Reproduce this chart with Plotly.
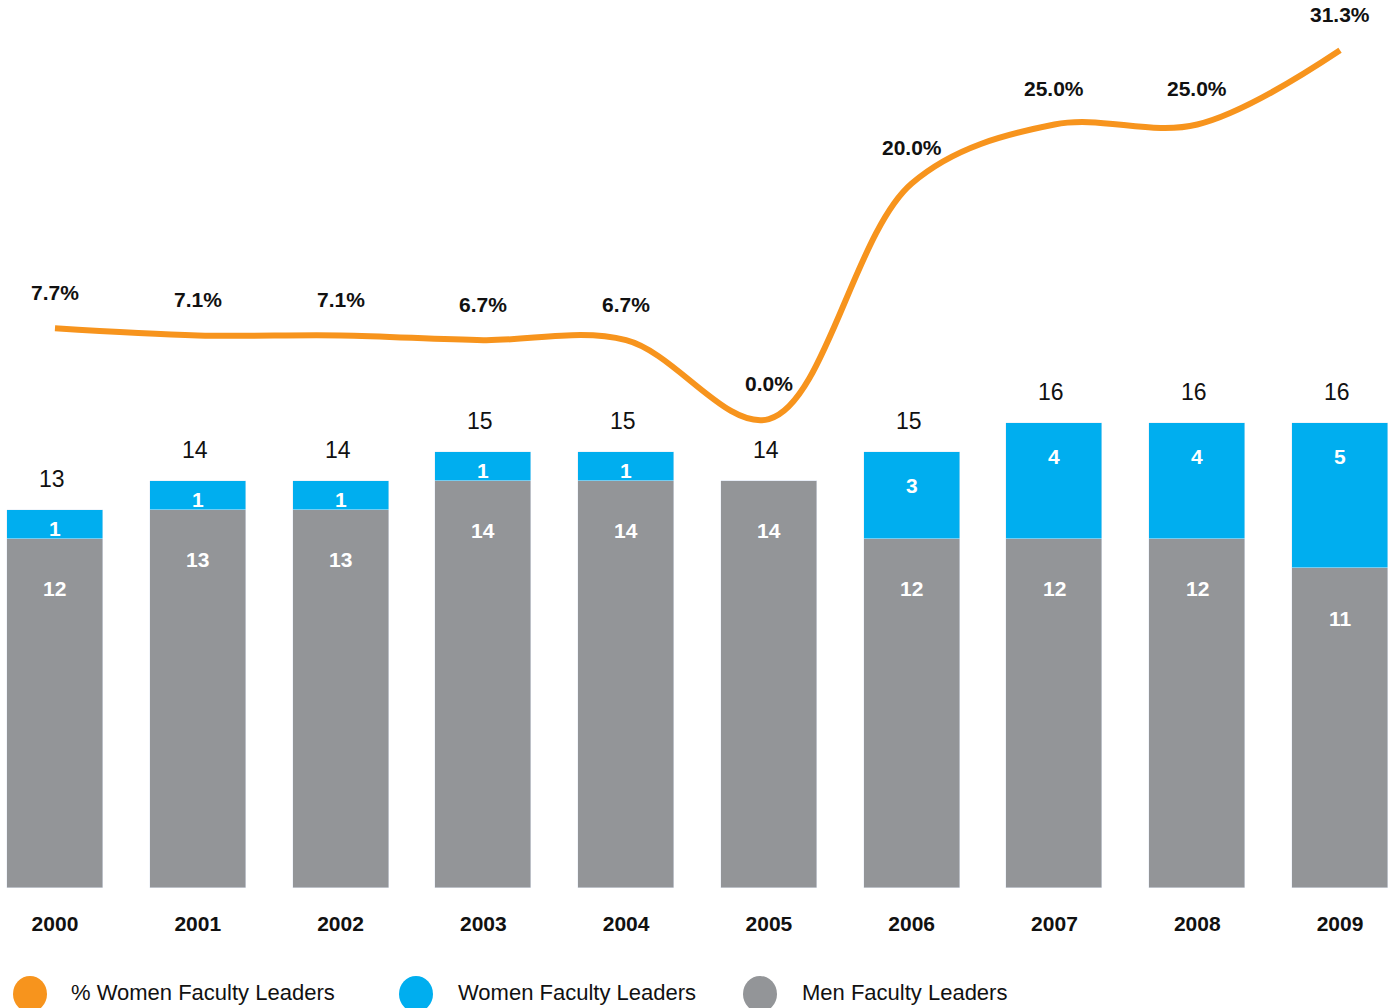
import plotly.graph_objects as go

years = [2000, 2001, 2002, 2003, 2004, 2005, 2006, 2007, 2008, 2009]
men = [12, 13, 13, 14, 14, 14, 12, 12, 12, 11]
women = [1, 1, 1, 1, 1, 0, 3, 4, 4, 5]
pct_women = [7.7, 7.1, 7.1, 6.7, 6.7, 0.0, 20.0, 25.0, 25.0, 31.3]
legend_names = ["% Women Faculty Leaders", "Women Faculty Leaders", "Men Faculty Leaders"]

ORANGE = "#F7941D"
BLUE = "#00AEEF"
GRAY = "#939598"
FONT = "Liberation Sans, Arial, sans-serif"

totals = [m + w for m, w in zip(men, women)]

fig = go.Figure()
fig.add_trace(go.Bar(x=years, y=men, marker_color=GRAY, width=0.672,
                     name=legend_names[2], showlegend=False, hoverinfo="skip"))
fig.add_trace(go.Bar(x=years, y=women, marker_color=BLUE, width=0.672,
                     name=legend_names[1], showlegend=False, hoverinfo="skip"))
fig.add_trace(go.Scatter(x=years, y=pct_women, yaxis="y2", mode="lines",
                         line=dict(color=ORANGE, width=6, shape="spline", smoothing=1.0),
                         name=legend_names[0], showlegend=False, hoverinfo="skip"))

ann = []
for yr, m, w, t, p in zip(years, men, women, totals, pct_women):
    # total above bar
    ann.append(dict(x=yr, y=t, xref="x", yref="y", text=str(t), showarrow=False,
                    yanchor="middle", yshift=31, xshift=-3,
                    font=dict(family=FONT, size=23, color="#111111")))
    # men label
    ann.append(dict(x=yr, y=m, xref="x", yref="y", text=f"<b>{m}</b>", showarrow=False,
                    yanchor="middle", yshift=-50,
                    font=dict(family=FONT, size=21, color="white")))
    # women label
    if w > 0:
        ann.append(dict(x=yr, y=t, xref="x", yref="y", text=f"<b>{w}</b>", showarrow=False,
                        yanchor="middle", yshift=-(19 if w == 1 else 34),
                        font=dict(family=FONT, size=21, color="white")))
    # percent label
    ann.append(dict(x=yr, y=p, xref="x", yref="y2", text=f"<b>{p:.1f}%</b>", showarrow=False,
                    yanchor="middle", yshift=36,
                    font=dict(family=FONT, size=21, color="#111111")))

# custom legend (circles + text) below the chart
legend_items = [(legend_names[0], ORANGE, 30 / 1398, 69 / 1398),
                (legend_names[1], BLUE, 416 / 1398, 456 / 1398),
                (legend_names[2], GRAY, 760 / 1398, 800 / 1398)]
shapes = []
leg_y = -106 / 888
for name, col, cx, tx in legend_items:
    shapes.append(dict(type="circle", xref="paper", yref="paper",
                       xsizemode="pixel", ysizemode="pixel",
                       xanchor=cx, yanchor=leg_y, x0=-17, x1=17, y0=-18, y1=18,
                       fillcolor=col, line=dict(width=0)))
    ann.append(dict(x=tx, y=leg_y, xref="paper", yref="paper", text=name, showarrow=False,
                    xanchor="left", yanchor="middle", yshift=2,
                    font=dict(family=FONT, size=22, color="#111111")))

fig.update_layout(
    width=1398, height=1008,
    margin=dict(l=0, r=0, t=0, b=120),
    barmode="stack", bargap=0,
    plot_bgcolor="white", paper_bgcolor="white",
    xaxis=dict(range=[1999.615, 2009.406], tickmode="array", tickvals=years,
               ticktext=[f"<b>{y}</b>" for y in years],
               tickfont=dict(family=FONT, size=21, color="#111111"),
               ticks="outside", ticklen=17, tickcolor="rgba(0,0,0,0)",
               showgrid=False, zeroline=False, showline=False, fixedrange=True),
    yaxis=dict(range=[0, 30.53], visible=False, showgrid=False, fixedrange=True),
    yaxis2=dict(range=[-39.8, 35.57], overlaying="y", visible=False, showgrid=False,
                fixedrange=True),
    annotations=ann,
    shapes=shapes,
    showlegend=False,
)

fig.write_html("out.html")
